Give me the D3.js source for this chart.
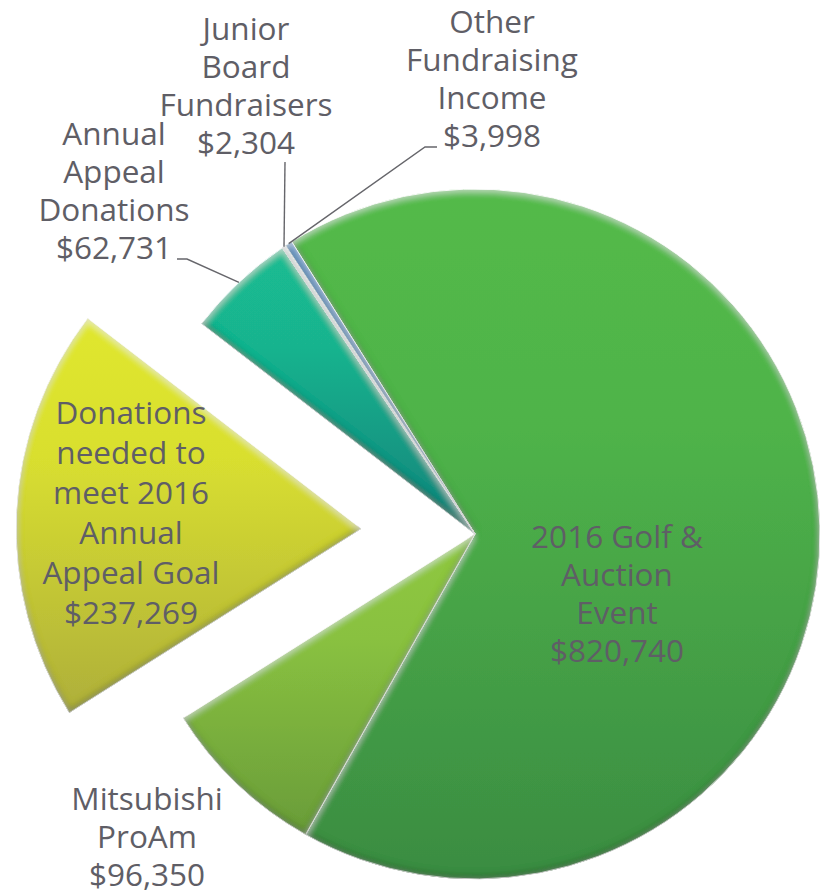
<!DOCTYPE html>
<html>
<head>
<meta charset="utf-8">
<script src="https://cdnjs.cloudflare.com/ajax/libs/d3/7.8.5/d3.min.js"></script>
<style>
  html, body { margin: 0; padding: 0; background: #fff; }
  .lbl { font-family: "Open Sans", sans-serif; font-size: 31.5px; fill: #5f5e66; }
</style>
</head>
<body>
<div id="chart"></div>
<script>
const categories = [
  "2016 Golf & Auction Event",
  "Mitsubishi ProAm",
  "Donations needed to meet 2016 Annual Appeal Goal",
  "Annual Appeal Donations",
  "Junior Board Fundraisers",
  "Other Fundraising Income"
];
const values = [820740, 96350, 237269, 62731, 2304, 3998];
const labelLines = [
  ["2016 Golf &", "Auction", "Event", "$820,740"],
  ["Mitsubishi", "ProAm", "$96,350"],
  ["Donations", "needed to", "meet 2016", "Annual", "Appeal Goal", "$237,269"],
  ["Annual", "Appeal", "Donations", "$62,731"],
  ["Junior", "Board", "Fundraisers", "$2,304"],
  ["Other", "Fundraising", "Income", "$3,998"]
];

// colours, top / bottom of each slice gradient
const topColors = ["#53ba4a", "#8fc841", "#e0e72d", "#1abc92", "#f6f9f9", "#1d86c6"];
const bottomColors = ["#3a8c42", "#699c39", "#aeaf3b", "#11827a", "#dde4e4", "#14679a"];

const width = 824, height = 895;
const cx = 475, cy = 534, r = 345;
const explodeIndex = 2, explodeDist = 114;

// label layout: centre x, first baseline, line height, leader points (to slice edge)
const labelLayout = [
  { x: 617, y: 548, lh: 38 },
  { x: 147, y: 810, lh: 38 },
  { x: 131, y: 424, lh: 40 },
  { x: 114, y: 145, lh: 38, leader: [[177, 259], [187, 259]] },
  { x: 246, y: 40, lh: 38, leader: [[285, 162]] },
  { x: 492, y: 33, lh: 38, leader: [[437, 147], [425, 147]] }
];

const data = categories.map((c, i) => ({ name: c, value: values[i], i }));

const startAngle = -32.1 * Math.PI / 180;
const pie = d3.pie()
  .sort(null)
  .value(d => d.value)
  .startAngle(startAngle)
  .endAngle(startAngle + 2 * Math.PI);
const arcs = pie(data);

const arc = d3.arc().innerRadius(0).outerRadius(r);

const svg = d3.select("#chart")
  .append("svg")
    .attr("width", width)
    .attr("height", height);

const defs = svg.append("defs");

// bevel look: dark rim at the lower edges, light rim at the upper edges
const f = defs.append("filter")
  .attr("id", "bevel")
  .attr("x", "-5%").attr("y", "-5%")
  .attr("width", "110%").attr("height", "110%");
f.append("feGaussianBlur").attr("in", "SourceAlpha").attr("stdDeviation", 3.5).attr("result", "blur");
f.append("feOffset").attr("in", "blur").attr("dx", 0).attr("dy", -3).attr("result", "up");
f.append("feOffset").attr("in", "blur").attr("dx", 0).attr("dy", 3).attr("result", "down");
f.append("feComposite").attr("in", "SourceAlpha").attr("in2", "up")
  .attr("operator", "arithmetic").attr("k2", 1).attr("k3", -1).attr("result", "darkMask");
f.append("feComposite").attr("in", "SourceAlpha").attr("in2", "down")
  .attr("operator", "arithmetic").attr("k2", 1).attr("k3", -1).attr("result", "lightMask");
f.append("feFlood").attr("flood-color", "#1d3a1a").attr("flood-opacity", 0.65).attr("result", "dk");
f.append("feComposite").attr("in", "dk").attr("in2", "darkMask").attr("operator", "in").attr("result", "darkEdge");
f.append("feFlood").attr("flood-color", "#ffffff").attr("flood-opacity", 0.5).attr("result", "lt");
f.append("feComposite").attr("in", "lt").attr("in2", "lightMask").attr("operator", "in").attr("result", "lightEdge");
const merge = f.append("feMerge");
merge.append("feMergeNode").attr("in", "SourceGraphic");
merge.append("feMergeNode").attr("in", "darkEdge");
merge.append("feMergeNode").attr("in", "lightEdge");

arcs.forEach((a, i) => {
  const g = defs.append("linearGradient")
    .attr("id", "grad" + i)
    .attr("x1", 0).attr("x2", 0)
    .attr("y1", 0).attr("y2", 1);
  g.append("stop").attr("offset", "0%").attr("stop-color", topColors[i]);
  g.append("stop").attr("offset", "35%").attr("stop-color", d3.interpolateRgb(topColors[i], bottomColors[i])(0.15));
  g.append("stop").attr("offset", "100%").attr("stop-color", bottomColors[i]);
});

function offsetOf(a) {
  if (a.data.i !== explodeIndex) return [0, 0];
  const mid = (a.startAngle + a.endAngle) / 2;
  return [Math.sin(mid) * explodeDist, -Math.cos(mid) * explodeDist];
}

svg.append("g")
  .selectAll("path")
  .data(arcs)
  .join("path")
    .attr("transform", d => {
      const o = offsetOf(d);
      return `translate(${cx + o[0]},${cy + o[1]})`;
    })
    .attr("d", arc)
    .attr("fill", (d, i) => `url(#grad${i})`)
    .attr("stroke", "#ffffff")
    .attr("stroke-width", 1)
    .attr("stroke-linejoin", "round")
    .attr("filter", "url(#bevel)");

// leader lines to the outer rim of the small slices
arcs.forEach((a, i) => {
  const lay = labelLayout[i];
  if (!lay.leader) return;
  const mid = (a.startAngle + a.endAngle) / 2;
  const end = [cx + Math.sin(mid) * r, cy - Math.cos(mid) * r];
  svg.append("path")
    .attr("d", d3.line()(lay.leader.concat([end])))
    .attr("fill", "none")
    .attr("stroke", "#66666b")
    .attr("stroke-width", 1.4);
});

// labels
labelLines.forEach((lines, i) => {
  const lay = labelLayout[i];
  const t = svg.append("text")
    .attr("class", "lbl")
    .attr("text-anchor", "middle");
  lines.forEach((ln, k) => {
    t.append("tspan")
      .attr("x", lay.x)
      .attr("y", lay.y + k * lay.lh)
      .text(ln);
  });
});
</script>
</body>
</html>
